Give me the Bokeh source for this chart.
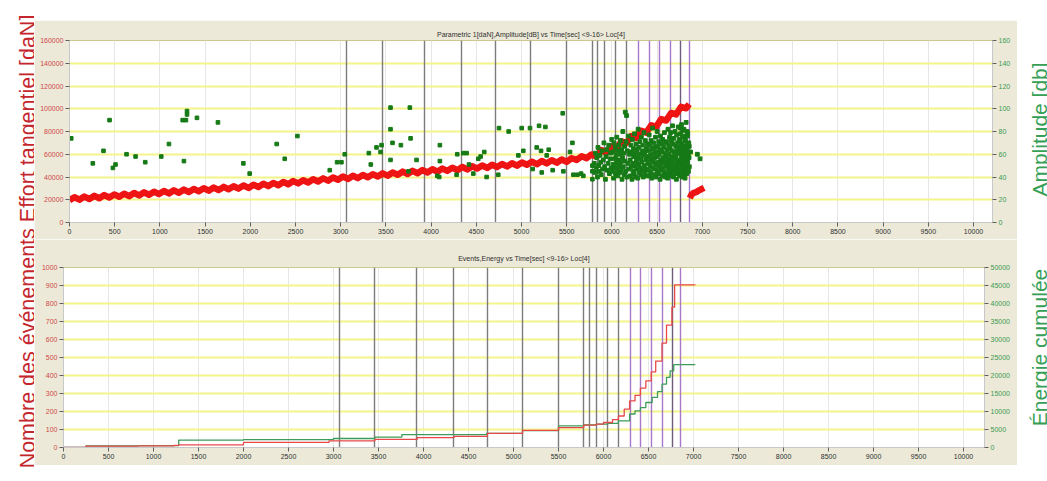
import math
from bokeh.plotting import figure
from bokeh.models import (Range1d, LinearAxis, SingleIntervalTicker, NumeralTickFormatter,
                          Label, Spacer)
from bokeh.layouts import row, column
from bokeh.embed import file_html
from bokeh.resources import INLINE

# ---------------- data ----------------
x_ticks_step = 500

# vertical cycle markers (time, s)
lines_gray = [3064, 3459, 3925, 4333, 4707, 5102, 5500, 5781, 5840, 5921, 6043, 6165]
lines_purple = [6298, 6412, 6530, 6652, 6855]
lines_dark = [6763]

# Effort tangentiel [daN] (sawtooth loading)
force_t = [0, 55, 110, 165, 220, 275, 330, 385, 440, 495,
           550, 605, 660, 715, 770, 825, 880, 935, 990, 1045,
           1100, 1155, 1210, 1265, 1320, 1375, 1430, 1485, 1540, 1595,
           1650, 1705, 1760, 1815, 1870, 1925, 1980, 2035, 2090, 2145,
           2200, 2255, 2310, 2365, 2420, 2475, 2530, 2585, 2640, 2695,
           2750, 2805, 2860, 2915, 2970, 3025, 3080, 3135, 3190, 3245,
           3300, 3355, 3410, 3465, 3520, 3575, 3630, 3685, 3740, 3795,
           3850, 3905, 3960, 4015, 4070, 4125, 4180, 4235, 4290, 4345,
           4400, 4455, 4510, 4565, 4620, 4675, 4730, 4785, 4840, 4895,
           4950, 5005, 5060, 5115, 5170, 5225, 5280, 5335, 5390, 5445,
           5500, 5555, 5610, 5665, 5720, 5775, 5830, 5885, 5940, 5995,
           6050, 6105, 6160, 6215, 6270, 6325, 6380, 6435, 6490, 6545,
           6600, 6655, 6710, 6765, 6820, 6855]
force_v = [19500, 22200, 20100, 22800, 20700, 23400, 21300, 24100, 22000, 24700,
           22600, 25300, 23200, 25900, 23800, 26500, 24400, 27100, 25000, 27700,
           25600, 28300, 26200, 28900, 26800, 29500, 27400, 30100, 28000, 30700,
           28600, 31300, 29200, 31900, 29800, 32500, 30400, 33200, 31200, 34000,
           32000, 34800, 32800, 35600, 33600, 36400, 34400, 37200, 35200, 38000,
           36000, 38800, 36800, 39600, 37600, 40400, 38300, 41100, 39000, 41800,
           39800, 42500, 40500, 43200, 41200, 43900, 41900, 44700, 42600, 45400,
           43300, 46100, 44000, 46800, 44700, 47400, 45400, 48100, 46000, 48800,
           46700, 49400, 47400, 50100, 48000, 50800, 48700, 51400, 49300, 52100,
           50000, 52700, 50700, 53400, 51300, 54100, 52000, 54700, 52600, 55400,
           53300, 56500, 55000, 58200, 56600, 59800, 57900, 63600, 61200, 66900,
           65100, 71400, 69700, 76000, 74300, 80700, 79000, 85500, 84200, 90900,
           89600, 96300, 95000, 101700, 100400, 104100]
force2_t = [6862, 6880, 6905, 6935, 6965, 6995, 7020]
force2_v = [21500, 24500, 26000, 26800, 28300, 29500, 30500]

# Amplitude [dB] hits - sparse part
amp_t = [19, 258, 376, 443, 480, 509, 631, 731, 838, 1015,
         1100, 1252, 1266, 1288, 1300, 1300, 1410, 1642, 1923, 1993,
         2292, 2381, 2521, 2879, 2960, 3008, 3045, 3311, 3333, 3396,
         3441, 3452, 3551, 3551, 3551, 3573, 3666, 3750, 3765, 3773,
         3839, 4068, 4090, 4097, 4097, 4282, 4289, 4356, 4393, 4419,
         4467, 4522, 4548, 4588, 4614, 4743, 4751, 4858, 4965, 5002,
         5020, 5094, 5124, 5168, 5194, 5216, 5224, 5264, 5279, 5301,
         5345, 5456, 5463, 5537, 5563, 5574, 5618, 5659, 5684, 5784,
         5784, 5784]
amp_db = [74, 52, 63, 90, 48, 51, 60, 58, 53, 58,
          69, 90, 54, 90, 98, 95, 92, 88, 52, 43,
          69, 56, 76, 46, 53, 53, 60, 61, 51, 66,
          62, 68, 101, 82, 55, 70, 68, 45, 101, 74,
          55, 41, 40, 68, 54, 42, 60, 61, 61, 51,
          43, 56, 58, 62, 40, 42, 83, 80, 59, 83,
          63, 83, 47, 66, 85, 63, 44, 84, 59, 64,
          46, 96, 45, 62, 70, 42, 42, 43, 41, 50,
          45, 38]

# Amplitude [dB] hits - dense part before failure
cloud_t = [5805, 5812, 5818, 5826, 5833, 5840, 5846, 5853, 5860, 5868,
           5875, 5882, 5890, 5897, 5905, 5912, 5920, 5928, 5935, 5943,
           5950, 5958, 5965, 5972, 5980, 5986, 5992, 5998,
           6004, 6009, 6013, 6018, 6022, 6027, 6031, 6036, 6040, 6045,
           6049, 6054, 6058, 6063, 6067, 6072, 6076, 6081, 6085, 6090,
           6094, 6099, 6103, 6108, 6112, 6117, 6121, 6126, 6130, 6135,
           6139, 6144, 6148, 6153, 6157, 6162, 6166, 6171, 6176, 6181,
           6188, 6195,
           6202, 6206, 6210, 6214, 6218, 6222, 6226, 6230, 6234, 6238,
           6242, 6246, 6250, 6254, 6258, 6262, 6266, 6270, 6274, 6278,
           6282, 6286, 6290, 6294, 6298, 6302, 6306, 6310, 6314, 6318,
           6322, 6326, 6330, 6334, 6338, 6342, 6346, 6350, 6354, 6358,
           6362, 6366, 6370, 6374, 6378, 6382, 6386, 6390, 6394, 6398,
           6402, 6405, 6409, 6412, 6416, 6419, 6423, 6427, 6430, 6434,
           6438, 6441, 6445, 6449, 6452, 6456, 6460, 6463, 6467, 6471,
           6474, 6478, 6482, 6485, 6489, 6493, 6496, 6500, 6504, 6507,
           6511, 6515, 6518, 6522, 6526, 6529, 6533, 6537, 6540, 6544,
           6548, 6551, 6555, 6559, 6562, 6566, 6570, 6573, 6577, 6581,
           6584, 6588, 6592, 6595, 6599,
           6602, 6605, 6608, 6611, 6614, 6617, 6620, 6623, 6626, 6629,
           6632, 6635, 6638, 6641, 6644, 6647, 6650, 6653, 6656, 6659,
           6662, 6665, 6668, 6671, 6674, 6677, 6680, 6683, 6686, 6689,
           6692, 6695, 6698, 6701, 6704, 6707, 6710, 6713, 6716, 6719,
           6722, 6725, 6728, 6731, 6734, 6737, 6740, 6743, 6746, 6749,
           6752, 6755, 6758, 6761, 6764, 6767, 6770, 6773, 6776, 6779,
           6782, 6785, 6788, 6791, 6794, 6797, 6800, 6803, 6806, 6809,
           6812, 6815, 6818, 6821, 6824, 6827, 6830, 6833, 6836, 6840,
           6745, 6750, 6756, 6762, 6768, 6774, 6780, 6786, 6792, 6798,
           6804, 6810, 6816, 6822, 6828, 6834, 6838, 6842, 6846, 6850,
           6853, 6856, 6758, 6772, 6788, 6802, 6818, 6832, 6844, 6855,
           6870, 6945, 6975]
cloud_db = [52, 44, 61, 48, 57, 40, 66, 50, 45, 59,
            53, 42, 63, 47, 55, 70, 49, 38, 58, 64,
            46, 52, 68, 43, 56, 61, 48, 73,
            45, 62, 51, 39, 70, 56, 48, 66, 43, 59,
            52, 75, 47, 63, 41, 55, 68, 50, 44, 60,
            72, 53, 46, 64, 38, 57, 80, 49, 61, 42,
            67, 54, 97, 45, 71, 94, 40, 63, 52, 76,
            47, 60,
            55, 41, 68, 49, 62, 38, 73, 52, 45, 65,
            58, 43, 78, 50, 61, 40, 69, 54, 47, 64,
            57, 39, 82, 51, 66, 44, 60, 71, 48, 56,
            42, 75, 53, 63, 46, 68, 40, 59, 79, 50,
            62, 44, 72, 55, 47, 65, 41, 58, 69, 52,
            46, 63, 54, 77, 41, 68, 50, 59, 44, 72,
            56, 39, 65, 83, 48, 61, 53, 70, 42, 57,
            66, 47, 75, 51, 40, 62, 58, 80, 45, 67,
            53, 43, 71, 60, 49, 64, 38, 76, 55, 46,
            69, 52, 62, 41, 73, 57, 48, 66, 44, 79,
            54, 61, 40, 70, 51,
            58, 43, 71, 50, 64, 39, 82, 55, 47, 68,
            60, 42, 75, 52, 66, 45, 79, 57, 49, 72,
            41, 63, 54, 85, 46, 69, 58, 40, 74, 51,
            62, 44, 80, 56, 48, 67, 59, 38, 77, 53,
            65, 43, 70, 50, 84, 46, 61, 55, 73, 41,
            66, 52, 78, 48, 60, 44, 86, 57, 69, 40,
            63, 51, 75, 47, 58, 82, 45, 67, 54, 39,
            72, 61, 49, 88, 56, 43, 65, 53, 76, 47,
            62, 48, 71, 55, 44, 67, 58, 81, 50, 64,
            42, 73, 59, 46, 68, 53, 78, 61, 45, 70,
            57, 49, 83, 65, 76, 52, 63, 80, 58, 67,
            62, 60, 56]

# Cumulative events (left) and cumulative energy (right)
events_t = [0, 250, 830, 1230, 1280, 2000, 2950, 3460, 3930, 4340, 4710, 5100, 5500,
            5780, 5920, 6000, 6100, 6165, 6230, 6290, 6350, 6410, 6470, 6530, 6580,
            6650, 6700, 6760, 6790, 7020]
events_n = [0, 8, 9, 12, 15, 28, 37, 45, 55, 62, 78, 95, 110,
            124, 130, 139, 155, 175, 213, 259, 290, 330, 370, 420, 480,
            580, 680, 780, 904, 904]
energy_t = [0, 250, 830, 1280, 2000, 3000, 3460, 3760, 4700, 5100, 5500, 5780, 5920,
            6050, 6165, 6290, 6350, 6410, 6470, 6540, 6600, 6650, 6700, 6740, 6780, 7020]
energy_v = [0, 450, 500, 2050, 2200, 2500, 2900, 3600, 3900, 4700, 6000, 6300, 6500,
            6700, 7400, 9300, 10200, 11100, 12500, 13900, 15500, 17600, 19500, 21300, 23000, 23000]

# ---------------- styling ----------------
BEIGE = "#ECE9D8"
RED_TXT = "#D04848"
GREEN_TXT = "#3A9A50"
FONT = "Liberation Sans"
TICK_FS = "7px"
PANEL_CSS = {"outline": "1px solid #9C9A90", "outline-offset": "-2px"}


def style_axis(ax, color):
    ax.major_label_text_font = FONT
    ax.major_label_text_font_size = TICK_FS
    ax.major_label_text_color = color
    ax.major_label_standoff = 2
    ax.major_tick_out = 4
    ax.major_tick_in = 0
    ax.minor_tick_line_color = None
    ax.major_tick_line_color = "#606060"
    ax.axis_line_color = "#C8C8C8"


def base_panel(title, height, xmax, ymax, bl, br, bt, bb, standoff):
    p = figure(width=983, height=height, x_range=Range1d(0, xmax), y_range=Range1d(0, ymax),
               output_backend="svg", toolbar_location=None, title=title,
               min_border_left=bl, min_border_right=br, min_border_top=bt, min_border_bottom=bb)
    p.frame_align = False
    p.styles = PANEL_CSS
    p.border_fill_color = BEIGE
    p.background_fill_color = "white"
    p.outline_line_color = "#C8C890"
    p.title.align = "center"
    p.title.text_font = FONT
    p.title.text_font_size = "7px"
    p.title.text_font_style = "normal"
    p.title.text_color = "#303030"
    p.title.standoff = standoff
    p.xaxis.ticker = SingleIntervalTicker(interval=x_ticks_step, num_minor_ticks=0)
    style_axis(p.xaxis[0], "#303030")
    style_axis(p.yaxis[0], RED_TXT)
    p.yaxis.formatter = NumeralTickFormatter(format="0")
    p.xgrid.grid_line_color = "#E6E6E6"
    p.ygrid.grid_line_color = "#F4F48A"
    p.ygrid.grid_line_width = 2
    return p


def draw_markers(p):
    p.vspan(x=lines_gray, line_color="#7C7C7C", line_width=1.4)
    p.vspan(x=lines_purple, line_color="#A878C8", line_width=1.4)
    p.vspan(x=lines_dark, line_color="#6E5A7A", line_width=1.4)


# ---- top panel ----
top = base_panel("Parametric 1[daN],Amplitude[dB] vs Time[sec] <9-16> Loc[4]",
                 219, 10210, 160000, 35, 25, 20, 17, 6)
top.yaxis.ticker = SingleIntervalTicker(interval=20000, num_minor_ticks=0)
top.extra_y_ranges = {"db": Range1d(0, 160)}
ax_db = LinearAxis(y_range_name="db", ticker=SingleIntervalTicker(interval=20, num_minor_ticks=0))
style_axis(ax_db, GREEN_TXT)
top.add_layout(ax_db, "right")
draw_markers(top)
top.line(force_t, force_v, line_color="#EE1414", line_width=6.5, line_join="round")
top.line(force2_t, force2_v, line_color="#EE1414", line_width=6.5, line_join="round")
top.scatter(amp_t, amp_db, y_range_name="db", marker="square", size=3.6,
            fill_color="#167A16", line_color="#167A16")
top.scatter(cloud_t, cloud_db, y_range_name="db", marker="square", size=3.8,
            fill_color="#167A16", line_color="#167A16")

# ---- bottom panel ----
bot = base_panel("Events,Energy vs Time[sec] <9-16> Loc[4]",
                 226, 10233, 1000, 29, 33, 28, 18, 12)
bot.yaxis.ticker = SingleIntervalTicker(interval=100, num_minor_ticks=0)
bot.extra_y_ranges = {"energy": Range1d(0, 50000)}
ax_en = LinearAxis(y_range_name="energy", ticker=SingleIntervalTicker(interval=5000, num_minor_ticks=0),
                   formatter=NumeralTickFormatter(format="0"))
style_axis(ax_en, GREEN_TXT)
bot.add_layout(ax_en, "right")
draw_markers(bot)
bot.step(energy_t, energy_v, mode="after", y_range_name="energy", line_color="#3C9C5A", line_width=1.3)
bot.step(events_t, events_n, mode="after", line_color="#E84848", line_width=1.3)


# ---- side label strips ----
H = 481


def side_fig(w):
    f = figure(width=w, height=H, x_range=Range1d(0, w), y_range=Range1d(0, H),
               x_axis_type=None, y_axis_type=None, output_backend="svg", toolbar_location=None,
               min_border=0, min_border_left=0, min_border_right=0, min_border_top=0, min_border_bottom=0)
    f.outline_line_color = None
    f.background_fill_color = "white"
    f.border_fill_color = "white"
    return f


left = side_fig(34)
left.add_layout(Label(x=27, y=240, text="Nombre des événements Effort tangentiel [daN]",
                      angle=math.pi / 2, text_align="center", text_baseline="alphabetic",
                      text_font=FONT, text_font_size="21.5px", text_color="#C4262E"))
right = side_fig(30)
right.add_layout(Label(x=22, y=352, text="Amplitude [db]", angle=math.pi / 2,
                       text_align="center", text_baseline="alphabetic",
                       text_font=FONT, text_font_size="21px", text_color="#35A055"))
right.add_layout(Label(x=22, y=134, text="Énergie cumulée", angle=math.pi / 2,
                       text_align="center", text_baseline="alphabetic",
                       text_font=FONT, text_font_size="21px", text_color="#35A055"))

mid = column(Spacer(width=983, height=20), top, bot)
layout = row(left, mid, right)

open("out.html", "w").write(file_html(layout, INLINE))
